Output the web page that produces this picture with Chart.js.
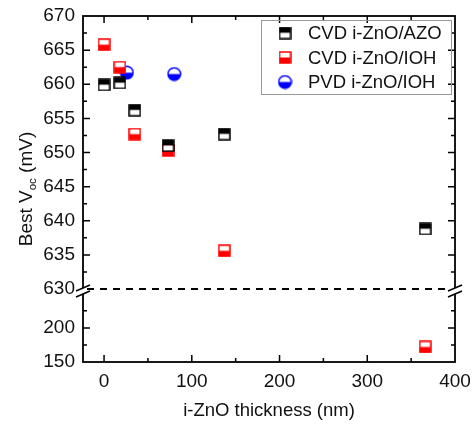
<!DOCTYPE html>
<html>
<head>
<meta charset="utf-8">
<script src="https://cdn.jsdelivr.net/npm/chart.js"></script>
<style>
    body { margin: 0; background: #fff; }
</style>
</head>
<body>
<canvas id="myChart" width="475" height="426"></canvas>
<script>
    // data
    const seriesNames = ['CVD i-ZnO/AZO', 'CVD i-ZnO/IOH', 'PVD i-ZnO/IOH'];
    const azoX = [0, 18, 35, 73, 137, 366];
    const azoY = [659.9, 660.2, 656.2, 651.0, 652.7, 638.8];
    const iohX = [0, 18, 35, 73, 137, 366];
    const iohY = [665.8, 662.5, 652.7, 650.3, 635.6, 172];
    const pvdX = [26, 80];
    const pvdY = [661.7, 661.5];

    const xTicks = [0, 100, 200, 300, 400];
    const xMinor = [50, 150, 250, 350];
    const yTicksUpper = [630, 635, 640, 645, 650, 655, 660, 665, 670];
    const yMinorUpper = [632.5, 637.5, 642.5, 647.5, 652.5, 657.5, 662.5, 667.5];
    const yTicksLower = [150, 200];
    const yMinorLower = [175, 225];
    const breakAt = 630;

    const FONT = 'Liberation Sans, Arial, sans-serif';
    const TXT = '#111';

    // half filled marker images
    function squareMarker(top, bottom, edge) {
        const c = document.createElement('canvas');
        c.width = 13; c.height = 13;
        const g = c.getContext('2d');
        g.fillStyle = top; g.fillRect(1, 1, 11, 5.5);
        g.fillStyle = bottom; g.fillRect(1, 6.5, 11, 5.5);
        g.strokeStyle = edge; g.lineWidth = 1.5;
        g.strokeRect(1, 1, 11, 11);
        return c;
    }
    function circleMarker(top, bottom, edge) {
        const c = document.createElement('canvas');
        c.width = 15; c.height = 15;
        const g = c.getContext('2d');
        g.fillStyle = top;
        g.beginPath(); g.arc(7.5, 7.5, 6.3, Math.PI, 0); g.fill();
        g.fillStyle = bottom;
        g.beginPath(); g.arc(7.5, 7.5, 6.3, 0, Math.PI); g.fill();
        g.strokeStyle = edge; g.lineWidth = 1.5;
        g.beginPath(); g.arc(7.5, 7.5, 6.3, 0, Math.PI * 2); g.stroke();
        return c;
    }
    const markers = [
        squareMarker('#000', '#fff', '#000'),
        squareMarker('#fff', '#f00', '#f00'),
        circleMarker('#fff', '#00f', '#00f')
    ];

    function pts(xs, ys, low) {
        return xs.map((x, i) => ({x: x, y: ys[i]}))
            .filter(p => low ? p.y < breakAt : p.y >= breakAt);
    }
    function ds(name, data, k, axis) {
        return {label: name, data: data, pointStyle: markers[k], yAxisID: axis,
            pointRadius: 6, pointHoverRadius: 6, showLine: false};
    }

    const axisFont = {family: FONT, size: 19};

    function drawTicks(ctx, ca, scale, values, len, vertical) {
        values.forEach(v => {
            const p = scale.getPixelForValue(v);
            ctx.beginPath();
            if (vertical) {
                ctx.moveTo(ca.left, p); ctx.lineTo(ca.left + len, p);
                ctx.moveTo(ca.right, p); ctx.lineTo(ca.right - len, p);
            } else {
                ctx.moveTo(p, ca.bottom); ctx.lineTo(p, ca.bottom - len);
                ctx.moveTo(p, ca.top); ctx.lineTo(p, ca.top + len);
            }
            ctx.stroke();
        });
    }

    function breakMark(ctx, x, y) {
        ctx.fillStyle = '#fff';
        ctx.fillRect(x - 2, y - 1, 4, 6);
        ctx.beginPath();
        ctx.moveTo(x - 7, y + 2); ctx.lineTo(x + 7, y - 4);
        ctx.moveTo(x - 7, y + 8); ctx.lineTo(x + 7, y + 2);
        ctx.stroke();
    }

    const framePlugin = {
        id: 'frame',
        afterDatasetsDraw(chart) {
            const ctx = chart.ctx;
            const ca = chart.chartArea;
            const sx = chart.scales.x, sy = chart.scales.y, sl = chart.scales.yLow;
            const yb = sy.getPixelForValue(breakAt);
            ctx.save();
            ctx.strokeStyle = '#000';
            ctx.lineWidth = 1.8;
            ctx.strokeRect(ca.left, ca.top, ca.right - ca.left, ca.bottom - ca.top);

            ctx.lineWidth = 1.5;
            drawTicks(ctx, ca, sy, yTicksUpper.slice(1, -1), 7, true);
            drawTicks(ctx, ca, sy, yMinorUpper, 4, true);
            drawTicks(ctx, ca, sl, yTicksLower.slice(1), 7, true);
            drawTicks(ctx, ca, sl, yMinorLower, 4, true);
            drawTicks(ctx, ca, sx, xTicks.slice(0, -1), 7, false);
            drawTicks(ctx, ca, sx, xMinor, 4, false);

            // dashed break line
            ctx.lineWidth = 2;
            ctx.setLineDash([7, 6]);
            ctx.beginPath();
            ctx.moveTo(ca.left + 4, yb); ctx.lineTo(ca.right - 4, yb);
            ctx.stroke();
            ctx.setLineDash([]);
            ctx.lineWidth = 1.5;
            breakMark(ctx, ca.left, yb);
            breakMark(ctx, ca.right, yb);

            // y title with subscript
            ctx.translate(32, 189);
            ctx.rotate(-Math.PI / 2);
            ctx.fillStyle = TXT;
            ctx.textBaseline = 'alphabetic';
            const big = '19px ' + FONT, small = '11.5px ' + FONT;
            ctx.font = big; const w1 = ctx.measureText('Best V').width;
            ctx.font = small; const w2 = ctx.measureText('oc').width;
            ctx.font = big; const w3 = ctx.measureText(' (mV)').width;
            let x0 = -(w1 + w2 + w3) / 2;
            ctx.font = big; ctx.fillText('Best V', x0, 0);
            ctx.font = small; ctx.fillText('oc', x0 + w1, 4);
            ctx.font = big; ctx.fillText(' (mV)', x0 + w1 + w2, 0);
            ctx.restore();

            // legend box
            ctx.save();
            ctx.strokeStyle = '#999';
            ctx.lineWidth = 1;
            ctx.strokeRect(261.5, 20.5, 190, 74);
            ctx.font = '18.5px ' + FONT;
            ctx.fillStyle = TXT;
            ctx.textBaseline = 'middle';
            seriesNames.forEach((n, i) => {
                const cy = 33 + i * 24.5;
                const m = markers[i];
                ctx.drawImage(m, 285 - m.width / 2, cy - m.height / 2);
                ctx.fillText(n, 308, cy + 1);
            });
            ctx.restore();
        }
    };

    const yCommon = {
        type: 'linear',
        position: 'left',
        stack: 'v',
        grid: {display: false},
        border: {display: false},
        ticks: {font: axisFont, color: TXT, padding: 0, autoSkip: false},
        afterFit: s => { s.width = 83; }
    };

    const chart = new Chart(document.getElementById('myChart'), {
        type: 'scatter',
        data: {
            datasets: [
                ds(seriesNames[0], pts(azoX, azoY, false), 0, 'y'),
                ds(seriesNames[1], pts(iohX, iohY, false), 1, 'y'),
                ds(seriesNames[1], pts(iohX, iohY, true), 1, 'yLow'),
                ds(seriesNames[2], pts(pvdX, pvdY, false), 2, 'y')
            ]
        },
        options: {
            responsive: false,
            animation: false,
            layout: {padding: {left: 0, top: 16, right: 20, bottom: 0}},
            plugins: {legend: {display: false}, tooltip: {enabled: false}},
            scales: {
                x: {
                    type: 'linear', min: -24, max: 400,
                    grid: {display: false},
                    border: {display: false},
                    afterBuildTicks: s => { s.ticks = xTicks.map(v => ({value: v})); },
                    ticks: {font: axisFont, color: TXT, padding: 0, maxRotation: 0},
                    title: {display: true, text: 'i-ZnO thickness (nm)', font: {family: FONT, size: 18.5}, color: TXT, padding: {top: 8}},
                    afterFit: s => { s.height = 64; }
                },
                yLow: Object.assign({}, yCommon, {
                    min: 150, max: 257, stackWeight: 73,
                    afterBuildTicks: s => { s.ticks = yTicksLower.map(v => ({value: v})); }
                }),
                y: Object.assign({}, yCommon, {
                    min: 630, max: 670, stackWeight: 273,
                    afterBuildTicks: s => { s.ticks = yTicksUpper.map(v => ({value: v})); }
                })
            }
        },
        plugins: [framePlugin]
    });
</script>
</body>
</html>
